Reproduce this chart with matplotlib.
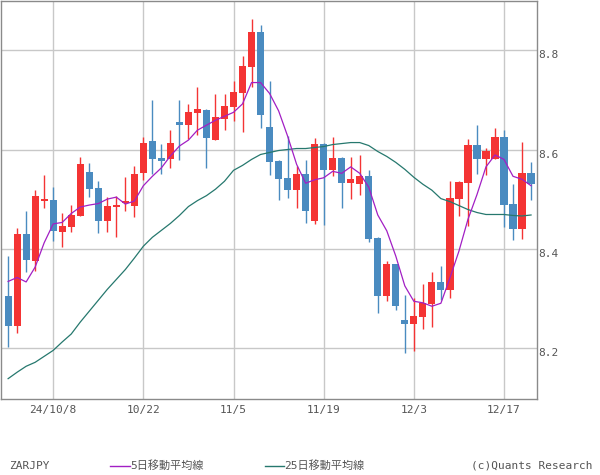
"""Daily ZARJPY candlestick chart with 5-day and 25-day moving averages."""

import matplotlib

matplotlib.use("Agg")

import matplotlib.pyplot as plt
import pandas as pd
from matplotlib.lines import Line2D

# Monospaced Latin text, CJK glyphs fall through to Noto Sans CJK JP
plt.rcParams["font.family"] = ["DejaVu Sans Mono", "Noto Sans CJK JP"]

# Trading days 2024-10-01 .. 2024-12-20 (weekdays)
dates = pd.bdate_range("2024-10-01", "2024-12-20")

opens = [
    8.304, 8.244, 8.429, 8.375, 8.497, 8.499, 8.434, 8.444, 8.466, 8.554,
    8.522, 8.456, 8.484, 8.493, 8.486, 8.552, 8.618, 8.582, 8.580, 8.656,
    8.650, 8.673, 8.679, 8.620, 8.662, 8.685, 8.713, 8.767, 8.836, 8.646,
    8.576, 8.542, 8.518, 8.550, 8.456, 8.612, 8.558, 8.582, 8.532, 8.530,
    8.546, 8.421, 8.304, 8.369, 8.256, 8.248, 8.262, 8.288, 8.332, 8.316,
    8.501, 8.532, 8.610, 8.580, 8.580, 8.626, 8.491, 8.439, 8.552,
]
highs = [
    8.385, 8.442, 8.477, 8.518, 8.548, 8.524, 8.471, 8.489, 8.584, 8.572,
    8.536, 8.505, 8.507, 8.544, 8.566, 8.626, 8.699, 8.612, 8.640, 8.699,
    8.691, 8.727, 8.682, 8.711, 8.711, 8.739, 8.789, 8.864, 8.852, 8.739,
    8.578, 8.628, 8.566, 8.578, 8.624, 8.614, 8.626, 8.584, 8.584, 8.588,
    8.558, 8.423, 8.375, 8.370, 8.306, 8.300, 8.328, 8.354, 8.365, 8.536,
    8.536, 8.622, 8.650, 8.604, 8.644, 8.640, 8.530, 8.616, 8.574,
]
lows = [
    8.201, 8.230, 8.353, 8.355, 8.482, 8.415, 8.403, 8.434, 8.466, 8.505,
    8.432, 8.434, 8.423, 8.477, 8.464, 8.538, 8.550, 8.550, 8.562, 8.578,
    8.622, 8.630, 8.562, 8.620, 8.640, 8.658, 8.636, 8.727, 8.644, 8.548,
    8.499, 8.503, 8.482, 8.452, 8.450, 8.447, 8.546, 8.482, 8.500, 8.509,
    8.413, 8.270, 8.295, 8.276, 8.189, 8.193, 8.238, 8.242, 8.296, 8.300,
    8.465, 8.446, 8.550, 8.548, 8.580, 8.444, 8.417, 8.420, 8.499,
]
closes = [
    8.244, 8.429, 8.377, 8.507, 8.501, 8.436, 8.445, 8.467, 8.570, 8.520,
    8.455, 8.487, 8.489, 8.497, 8.550, 8.614, 8.580, 8.576, 8.614, 8.650,
    8.675, 8.681, 8.624, 8.666, 8.687, 8.715, 8.769, 8.836, 8.669, 8.574,
    8.540, 8.518, 8.550, 8.476, 8.612, 8.558, 8.582, 8.532, 8.540, 8.546,
    8.420, 8.304, 8.369, 8.284, 8.248, 8.264, 8.290, 8.332, 8.316, 8.503,
    8.534, 8.610, 8.580, 8.596, 8.626, 8.489, 8.439, 8.552, 8.530,
]
ma5 = [
    8.334, 8.342, 8.333, 8.363, 8.412, 8.450, 8.453, 8.471, 8.484, 8.488,
    8.491, 8.500, 8.504, 8.490, 8.496, 8.527, 8.546, 8.563, 8.587, 8.607,
    8.619, 8.639, 8.649, 8.659, 8.667, 8.675, 8.692, 8.735, 8.735, 8.713,
    8.678, 8.627, 8.570, 8.532, 8.539, 8.543, 8.556, 8.552, 8.565, 8.552,
    8.524, 8.468, 8.436, 8.385, 8.325, 8.294, 8.291, 8.284, 8.290, 8.341,
    8.395, 8.459, 8.509, 8.565, 8.589, 8.580, 8.546, 8.540, 8.527,
]
ma25 = [
    8.138, 8.151, 8.163, 8.171, 8.183, 8.195, 8.212, 8.228, 8.252, 8.274,
    8.296, 8.318, 8.338, 8.358, 8.381, 8.405, 8.423, 8.437, 8.451, 8.467,
    8.485, 8.497, 8.507, 8.520, 8.536, 8.558, 8.568, 8.580, 8.590, 8.594,
    8.598, 8.600, 8.602, 8.602, 8.604, 8.606, 8.610, 8.612, 8.614, 8.614,
    8.608, 8.596, 8.586, 8.574, 8.560, 8.544, 8.530, 8.518, 8.501, 8.495,
    8.487, 8.479, 8.473, 8.469, 8.469, 8.469, 8.467, 8.466, 8.468,
]

tick_dates = ["2024-10-08", "2024-10-22", "2024-11-05", "2024-11-19", "2024-12-03", "2024-12-17"]
tick_labels = ["24/10/8", "10/22", "11/5", "11/19", "12/3", "12/17"]
price_ticks = [8.2, 8.4, 8.6, 8.8]

UP_COLOR = "#f43434"
DOWN_COLOR = "#4a8bc0"
MA5_COLOR = "#a21fc4"
MA25_COLOR = "#26786e"
GRID_COLOR = "#c8c8c8"
TEXT_COLOR = "#555555"
FRAME_COLOR = "#8a8a8a"


def plot_candles(ax) -> None:
    """Draw wicks and bodies; red for rising days, blue for falling days."""
    for i, (o, h, l, c) in enumerate(zip(opens, highs, lows, closes)):
        color = UP_COLOR if c >= o else DOWN_COLOR
        ax.vlines(i, l, h, color=color, linewidth=1.0, zorder=3)
        height = max(abs(c - o), 0.004)
        ax.bar(i, height, bottom=min(o, c), width=0.8, color=color,
               linewidth=0, zorder=4)


fig = plt.figure(figsize=(6, 4.75), dpi=100)
ax = fig.add_axes([0.0015, 0.16, 0.8935, 0.8385])

plot_candles(ax)
x = range(len(closes))
ax.plot(x, ma25, color=MA25_COLOR, linewidth=0.9, zorder=5)
ax.plot(x, ma5, color=MA5_COLOR, linewidth=0.9, zorder=6)

ax.set_xlim(-0.8, 58.66)
ax.set_ylim(8.097, 8.9)

tick_pos = [dates.get_loc(pd.Timestamp(d)) for d in tick_dates]
ax.set_xticks(tick_pos)
ax.set_xticklabels(tick_labels)
ax.set_yticks(price_ticks)
ax.set_yticklabels([f"{v:.1f}" for v in price_ticks])
ax.yaxis.tick_right()
ax.tick_params(axis="both", length=0, labelsize=8, colors=TEXT_COLOR)
ax.tick_params(axis="x", pad=4)
ax.tick_params(axis="y", pad=1)
for label in ax.get_yticklabels():
    label.set_verticalalignment("top")
    label.set_y(label.get_position()[1])
ax.yaxis.set_tick_params(which="major")

ax.grid(True, color=GRID_COLOR, linewidth=1.0, zorder=0)
ax.set_axisbelow(True)
for spine in ax.spines.values():
    spine.set_color(FRAME_COLOR)
    spine.set_linewidth(1.0)

# Footer legend row
row_y = 1 - 466 / 475
fig.text(0.016, row_y, "ZARJPY", fontsize=8, color=TEXT_COLOR, va="center")
fig.add_artist(Line2D([0.184, 0.217], [row_y, row_y], color=MA5_COLOR, linewidth=1.0))
fig.text(0.217, row_y, "5日移動平均線", fontsize=8, color=TEXT_COLOR, va="center")
fig.add_artist(Line2D([0.441, 0.474], [row_y, row_y], color=MA25_COLOR, linewidth=1.0))
fig.text(0.474, row_y, "25日移動平均線", fontsize=8, color=TEXT_COLOR, va="center")
fig.text(0.987, row_y, "(c)Quants Research", fontsize=8, color=TEXT_COLOR,
         ha="right", va="center")

fig.savefig("out.png", dpi=100)
plt.close(fig)
